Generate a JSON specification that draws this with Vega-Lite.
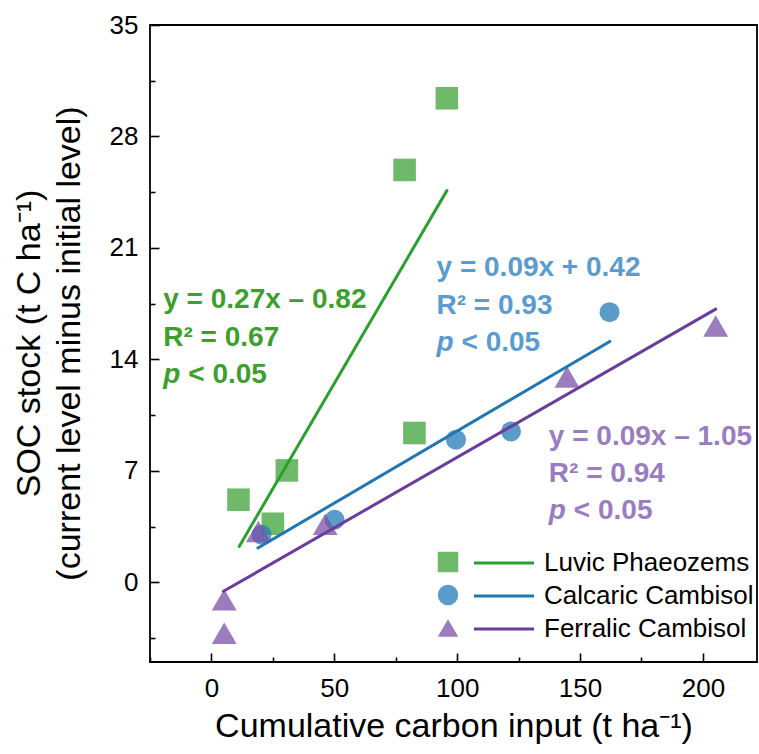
{
  "$schema": "https://vega.github.io/schema/vega-lite/v6.json",
  "width": 607,
  "height": 637,
  "autosize": {"type": "none"},
  "padding": {"left": 150, "top": 25, "right": 2, "bottom": 92},
  "config": {
    "view": {"stroke": "black", "strokeWidth": 1.8},
    "font": "Liberation Sans",
    "axis": {"grid": false, "domain": false, "tickColor": "black", "tickWidth": 1.6, "labelColor": "black", "titleColor": "black", "labelFont": "Liberation Sans", "titleFont": "Liberation Sans", "titleFontWeight": "normal"},
    "legend": {"labelFont": "Liberation Sans", "labelColor": "black", "labelFontSize": 26, "labelLimit": 400}
  },
  "datasets": {
    "points": [
      {"soil": "Luvic Phaeozems", "input": 11.0, "soc": 5.19},
      {"soil": "Luvic Phaeozems", "input": 25.0, "soc": 3.68},
      {"soil": "Luvic Phaeozems", "input": 30.7, "soc": 7.03},
      {"soil": "Luvic Phaeozems", "input": 78.6, "soc": 25.9},
      {"soil": "Luvic Phaeozems", "input": 82.6, "soc": 9.38},
      {"soil": "Luvic Phaeozems", "input": 95.8, "soc": 30.4},
      {"soil": "Calcaric Cambisol", "input": 20.4, "soc": 2.99},
      {"soil": "Calcaric Cambisol", "input": 50.1, "soc": 3.93},
      {"soil": "Calcaric Cambisol", "input": 99.5, "soc": 8.96},
      {"soil": "Calcaric Cambisol", "input": 121.9, "soc": 9.48},
      {"soil": "Calcaric Cambisol", "input": 162.0, "soc": 16.97},
      {"soil": "Ferralic Cambisol", "input": 5.2, "soc": -1.09},
      {"soil": "Ferralic Cambisol", "input": 5.2, "soc": -3.2},
      {"soil": "Ferralic Cambisol", "input": 19.1, "soc": 3.2},
      {"soil": "Ferralic Cambisol", "input": 46.3, "soc": 3.65},
      {"soil": "Ferralic Cambisol", "input": 144.7, "soc": 12.9},
      {"soil": "Ferralic Cambisol", "input": 205.2, "soc": 16.1}
    ],
    "fits": [
      {"soil": "Luvic Phaeozems", "input": 11.3, "soc": 2.26},
      {"soil": "Luvic Phaeozems", "input": 95.8, "soc": 24.6},
      {"soil": "Calcaric Cambisol", "input": 18.9, "soc": 2.16},
      {"soil": "Calcaric Cambisol", "input": 162.1, "soc": 15.13},
      {"soil": "Ferralic Cambisol", "input": 4.9, "soc": -0.56},
      {"soil": "Ferralic Cambisol", "input": 205.2, "soc": 17.16}
    ],
    "labels": [
      {"soil": "Luvic Phaeozems", "input": -19.6, "soc": 17.75, "label": "y = 0.27x – 0.82"},
      {"soil": "Luvic Phaeozems", "input": -19.6, "soc": 15.36, "label": "R² = 0.67"},
      {"soil": "Calcaric Cambisol", "input": 91.6, "soc": 19.75, "label": "y = 0.09x + 0.42"},
      {"soil": "Calcaric Cambisol", "input": 91.6, "soc": 17.37, "label": "R² = 0.93"},
      {"soil": "Ferralic Cambisol", "input": 137.3, "soc": 9.15, "label": "y = 0.09x – 1.05"},
      {"soil": "Ferralic Cambisol", "input": 137.3, "soc": 6.82, "label": "R² = 0.94"}
    ],
    "pvals": [
      {"soil": "Luvic Phaeozems", "input": -19.6, "soc": 13.04},
      {"soil": "Calcaric Cambisol", "input": 91.6, "soc": 15.05},
      {"soil": "Ferralic Cambisol", "input": 137.3, "soc": 4.5}
    ]
  },
  "resolve": {"axis": {"x": "independent", "y": "independent"}},
  "layer": [
    {
      "data": {"name": "points"},
      "mark": {"type": "point", "filled": true, "opacity": 0.75, "strokeWidth": 0},
      "encoding": {
        "x": {"field": "input", "type": "quantitative",
          "scale": {"domain": [-25, 222], "nice": false, "zero": false},
          "axis": {"orient": "bottom", "values": [0, 50, 100, 150, 200], "tickSize": -9, "labelPadding": 22, "labelFontSize": 26,
            "title": "Cumulative carbon input (t ha⁻¹)", "titleFontSize": 34, "titleY": 64, "titleBaseline": "middle"}},
        "y": {"field": "soc", "type": "quantitative",
          "scale": {"domain": [-5, 35], "nice": false, "zero": false},
          "axis": {"orient": "left", "values": [0, 7, 14, 21, 28, 35], "tickSize": -9, "labelPadding": 21, "labelFontSize": 26,
            "title": ["SOC stock (t C ha⁻¹)", "(current level minus initial level)"], "titleFontSize": 34, "titleLineHeight": 40,
            "titleX": -121, "titleY": 318, "titleAngle": -90, "titleBaseline": "middle", "titleAlign": "center"}},
        "fill": {"field": "soil", "type": "nominal",
          "scale": {"domain": ["Luvic Phaeozems", "Calcaric Cambisol", "Ferralic Cambisol"], "range": ["#3ea338", "#2479b6", "#7a50a8"]},
          "legend": {"title": null, "orient": "none", "legendX": 285, "legendY": 524, "labelExpr": "''", "symbolSize": 420, "symbolOpacity": 0.75, "symbolStrokeWidth": 0, "rowPadding": 7}},
        "shape": {"field": "soil", "type": "nominal",
          "scale": {"domain": ["Luvic Phaeozems", "Calcaric Cambisol", "Ferralic Cambisol"], "range": ["square", "circle", "triangle-up"]},
          "legend": {"title": null, "orient": "none", "legendX": 285, "legendY": 524, "labelExpr": "''", "symbolSize": 420, "symbolOpacity": 0.75, "symbolStrokeWidth": 0, "rowPadding": 7}},
        "size": {"field": "soil", "type": "nominal",
          "scale": {"domain": ["Ferralic Cambisol", "Luvic Phaeozems", "Calcaric Cambisol"], "range": [620, 400, 480]},
          "legend": null}
      }
    },
    {
      "data": {"name": "fits"},
      "mark": {"type": "line", "strokeWidth": 3, "strokeCap": "round"},
      "encoding": {
        "x": {"field": "input", "type": "quantitative",
          "scale": {"domain": [-25, 222], "nice": false, "zero": false},
          "axis": {"orient": "bottom", "values": [-25, 25, 75, 125, 175], "tickSize": -5, "labels": false, "title": null}},
        "y": {"field": "soc", "type": "quantitative",
          "scale": {"domain": [-5, 35], "nice": false, "zero": false},
          "axis": {"orient": "left", "values": [-3.5, 3.5, 10.5, 17.5, 24.5, 31.5], "tickSize": -5, "labels": false, "title": null}},
        "stroke": {"field": "soil", "type": "nominal",
          "scale": {"domain": ["Luvic Phaeozems", "Ferralic Cambisol", "Calcaric Cambisol"], "range": ["#2ca02c", "#6a3d9a", "#1f77b4"]},
          "legend": {"title": null, "orient": "none", "legendX": 341, "legendY": 525, "values": ["Luvic Phaeozems", "Calcaric Cambisol", "Ferralic Cambisol"], "symbolType": "M-3,0H3", "symbolSize": 400, "symbolStrokeWidth": 3, "labelOffset": 27, "labelLimit": 400, "rowPadding": 7}}
      }
    },
    {
      "data": {"name": "labels"},
      "mark": {"type": "text", "align": "left", "baseline": "middle", "fontSize": 28, "fontWeight": "bold", "font": "Liberation Sans"},
      "encoding": {
        "x": {"field": "input", "type": "quantitative", "axis": null},
        "y": {"field": "soc", "type": "quantitative", "axis": null},
        "text": {"field": "label"},
        "color": {"field": "soil", "type": "nominal",
          "scale": {"domain": ["Calcaric Cambisol", "Ferralic Cambisol", "Luvic Phaeozems"], "range": ["#5b9bd0", "#9a7cc0", "#3c9f2e"]},
          "legend": null}
      }
    },
    {
      "data": {"name": "pvals"},
      "mark": {"type": "text", "align": "left", "baseline": "middle", "fontSize": 28, "fontWeight": "bold", "fontStyle": "italic", "font": "Liberation Sans", "text": "p"},
      "encoding": {
        "x": {"field": "input", "type": "quantitative", "axis": null},
        "y": {"field": "soc", "type": "quantitative", "axis": null},
        "color": {"field": "soil", "type": "nominal",
          "scale": {"domain": ["Calcaric Cambisol", "Ferralic Cambisol", "Luvic Phaeozems"], "range": ["#5b9bd0", "#9a7cc0", "#3c9f2e"]},
          "legend": null}
      }
    },
    {
      "data": {"name": "pvals"},
      "mark": {"type": "text", "align": "left", "baseline": "middle", "fontSize": 28, "fontWeight": "bold", "font": "Liberation Sans", "text": "< 0.05", "dx": 25},
      "encoding": {
        "x": {"field": "input", "type": "quantitative", "axis": null},
        "y": {"field": "soc", "type": "quantitative", "axis": null},
        "color": {"field": "soil", "type": "nominal",
          "scale": {"domain": ["Calcaric Cambisol", "Ferralic Cambisol", "Luvic Phaeozems"], "range": ["#5b9bd0", "#9a7cc0", "#3c9f2e"]},
          "legend": null}
      }
    }
  ]
}
